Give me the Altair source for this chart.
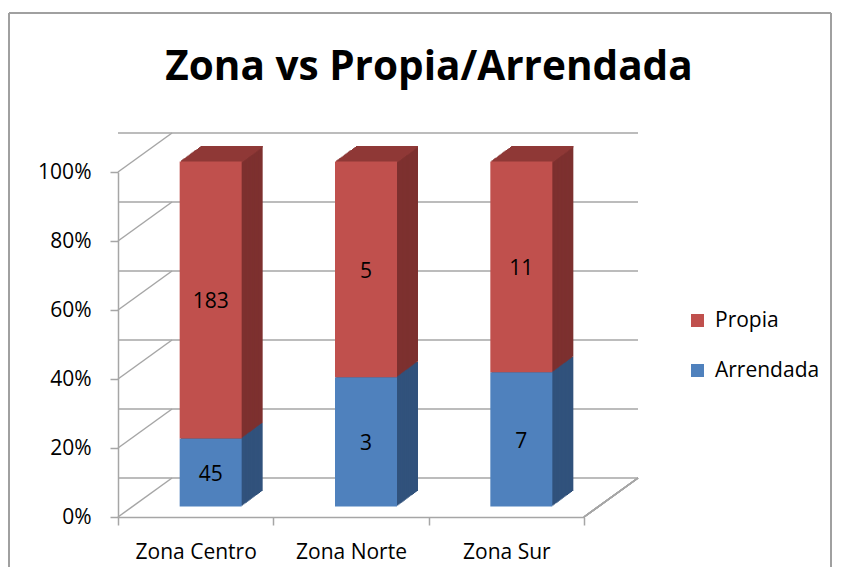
import altair as alt
import pandas as pd

# ---- data ----
zonas = ["Zona Centro", "Zona Norte", "Zona Sur"]
arrendada = [45, 3, 7]
propia = [183, 5, 11]
tenencias = ["Propia", "Arrendada"]
y_ticks = [0, 0.2, 0.4, 0.6, 0.8, 1.0]

rows = []
for z, a, p in zip(zonas, arrendada, propia):
    rows.append({"zona": z, "tenencia": "Arrendada", "orden": 0, "n": a})
    rows.append({"zona": z, "tenencia": "Propia", "orden": 1, "n": p})
df = pd.DataFrame(rows)
grid_df = pd.DataFrame({"v": y_ticks})

# ---- styles ----
FONT = "Open Sans"
FRONT = ["#C0504D", "#4F81BD"]
SIDE = {"Propia": "#7D302F", "Arrendada": "#31527C"}
TOP = "#8F3937"
GRID = "#A6A6A6"

W, H = 466, 345
DEPTH_X, DEPTH_Y = 54, 39      # depth of the 3-D walls
BAR_DX, BAR_DY = 15, 10.5      # bar placement inside the depth
SIDE_X, SIDE_Y = 21, 15.5      # depth of each bar
BAR_W = 62
N = 16

x_enc = alt.X(
    "zona:N", sort=zonas, title=None,
    scale=alt.Scale(paddingInner=0, paddingOuter=0),
    axis=alt.Axis(labelFont=FONT, labelFontSize=21, labelColor="black", labelAngle=0,
                  tickBand="extent", tickSize=8, tickColor=GRID, tickWidth=1.5,
                  domainColor=GRID, domainWidth=1.5, labelPadding=16),
)
y_scale = alt.Scale(domain=[0, 1], nice=False)
y_axis = alt.Axis(values=y_ticks, format="%", tickSize=8, tickColor=GRID, tickWidth=1.5,
                  domainColor=GRID, domainWidth=1.5, grid=False, labelFont=FONT,
                  labelFontSize=21, labelColor="black", labelPadding=19, title=None)


def Y(field):
    return alt.Y(field, scale=y_scale, axis=y_axis, title=None)


stacked = alt.Chart(df).transform_stack(
    stack="n", groupby=["zona"], offset="normalize",
    sort=[alt.SortField("orden")], as_=["y0", "y1"],
)

layers = []

# back wall gridlines
layers.append(
    alt.Chart(grid_df).mark_rule(color=GRID, strokeWidth=1.5, xOffset=DEPTH_X, yOffset=-DEPTH_Y)
    .encode(y=Y("v:Q"))
)
# side wall gridlines (diagonals)
layers.append(
    alt.Chart(grid_df).mark_rule(color=GRID, strokeWidth=1.5, y2Offset=-DEPTH_Y)
    .encode(x=alt.value(0), x2=alt.value(DEPTH_X), y=Y("v:Q"), y2="v:Q")
)
# floor right edge
layers.append(
    alt.Chart(grid_df).mark_rule(color=GRID, strokeWidth=1.5)
    .encode(x=alt.value(W), x2=alt.value(W + DEPTH_X), y=alt.value(H), y2=alt.value(H - DEPTH_Y))
)
# chart-area border
BORDER = "#A0A0A0"
layers.append(
    alt.Chart(grid_df).mark_rule(color=BORDER, strokeWidth=2)
    .encode(x=alt.value(-109), x2=alt.value(713), y=alt.value(-159))
)
layers.append(
    alt.Chart(grid_df).mark_rule(color=BORDER, strokeWidth=2)
    .encode(x=alt.value(-109), y=alt.value(-159), y2=alt.value(H + 60))
)
layers.append(
    alt.Chart(grid_df).mark_rule(color=BORDER, strokeWidth=2)
    .encode(x=alt.value(713), y=alt.value(-159), y2=alt.value(H + 60))
)

# bar side faces (extruded)
for k in range(N, 0, -1):
    f = k / N
    xo = BAR_DX + SIDE_X * f
    yo = -BAR_DY - SIDE_Y * f
    for t in ["Arrendada", "Propia"]:
        layers.append(
            stacked.transform_filter(alt.datum.tenencia == t)
            .mark_bar(width=BAR_W, color=SIDE[t], xOffset=xo, yOffset=yo, y2Offset=yo)
            .encode(x=x_enc, y=Y("y1:Q"), y2="y0:Q")
        )
# top faces
for k in range(N, 0, -1):
    f = k / N
    xo = BAR_DX + SIDE_X * f
    yo = -BAR_DY - SIDE_Y * f
    layers.append(
        stacked.transform_filter(alt.datum.tenencia == "Propia")
        .mark_bar(width=BAR_W, color=TOP, xOffset=xo, yOffset=yo, y2Offset=yo + 1.6)
        .encode(x=x_enc, y=Y("y1:Q"), y2="y1:Q")
    )

# front faces
layers.append(
    stacked.mark_bar(width=BAR_W, xOffset=BAR_DX, yOffset=-BAR_DY, y2Offset=-BAR_DY)
    .encode(
        x=x_enc, y=Y("y1:Q"), y2="y0:Q",
        color=alt.Color("tenencia:N", scale=alt.Scale(domain=tenencias, range=FRONT),
                        legend=alt.Legend(title=None, orient="none", legendX=569, legendY=138,
                                          symbolType="square", symbolSize=169,
                                          symbolStrokeWidth=0, labelFont=FONT,
                                          labelFontSize=21, labelColor="black",
                                          rowPadding=28, labelOffset=7)),
    )
)
# value labels
layers.append(
    stacked.transform_calculate(mid="(datum.y0 + datum.y1) / 2")
    .mark_text(font=FONT, fontSize=21, color="black", xOffset=BAR_DX, yOffset=-BAR_DY + 2.5)
    .encode(x=x_enc, y=Y("mid:Q"), text="n:Q")
)

chart = alt.layer(*layers).properties(
    width=W, height=H,
    background="white",
    title=alt.TitleParams("Zona vs Propia/Arrendada", font=FONT, fontSize=40.5,
                          fontWeight="bold", color="black", anchor="middle",
                          frame="group", dx=78, offset=-76),
    autosize=alt.AutoSizeParams(type="none"),
    padding={"left": 110, "top": 164, "right": 249, "bottom": 50},
).configure_view(stroke=None, strokeWidth=0)

chart.save("out.html", embed_options={"renderer": "svg", "actions": False})
